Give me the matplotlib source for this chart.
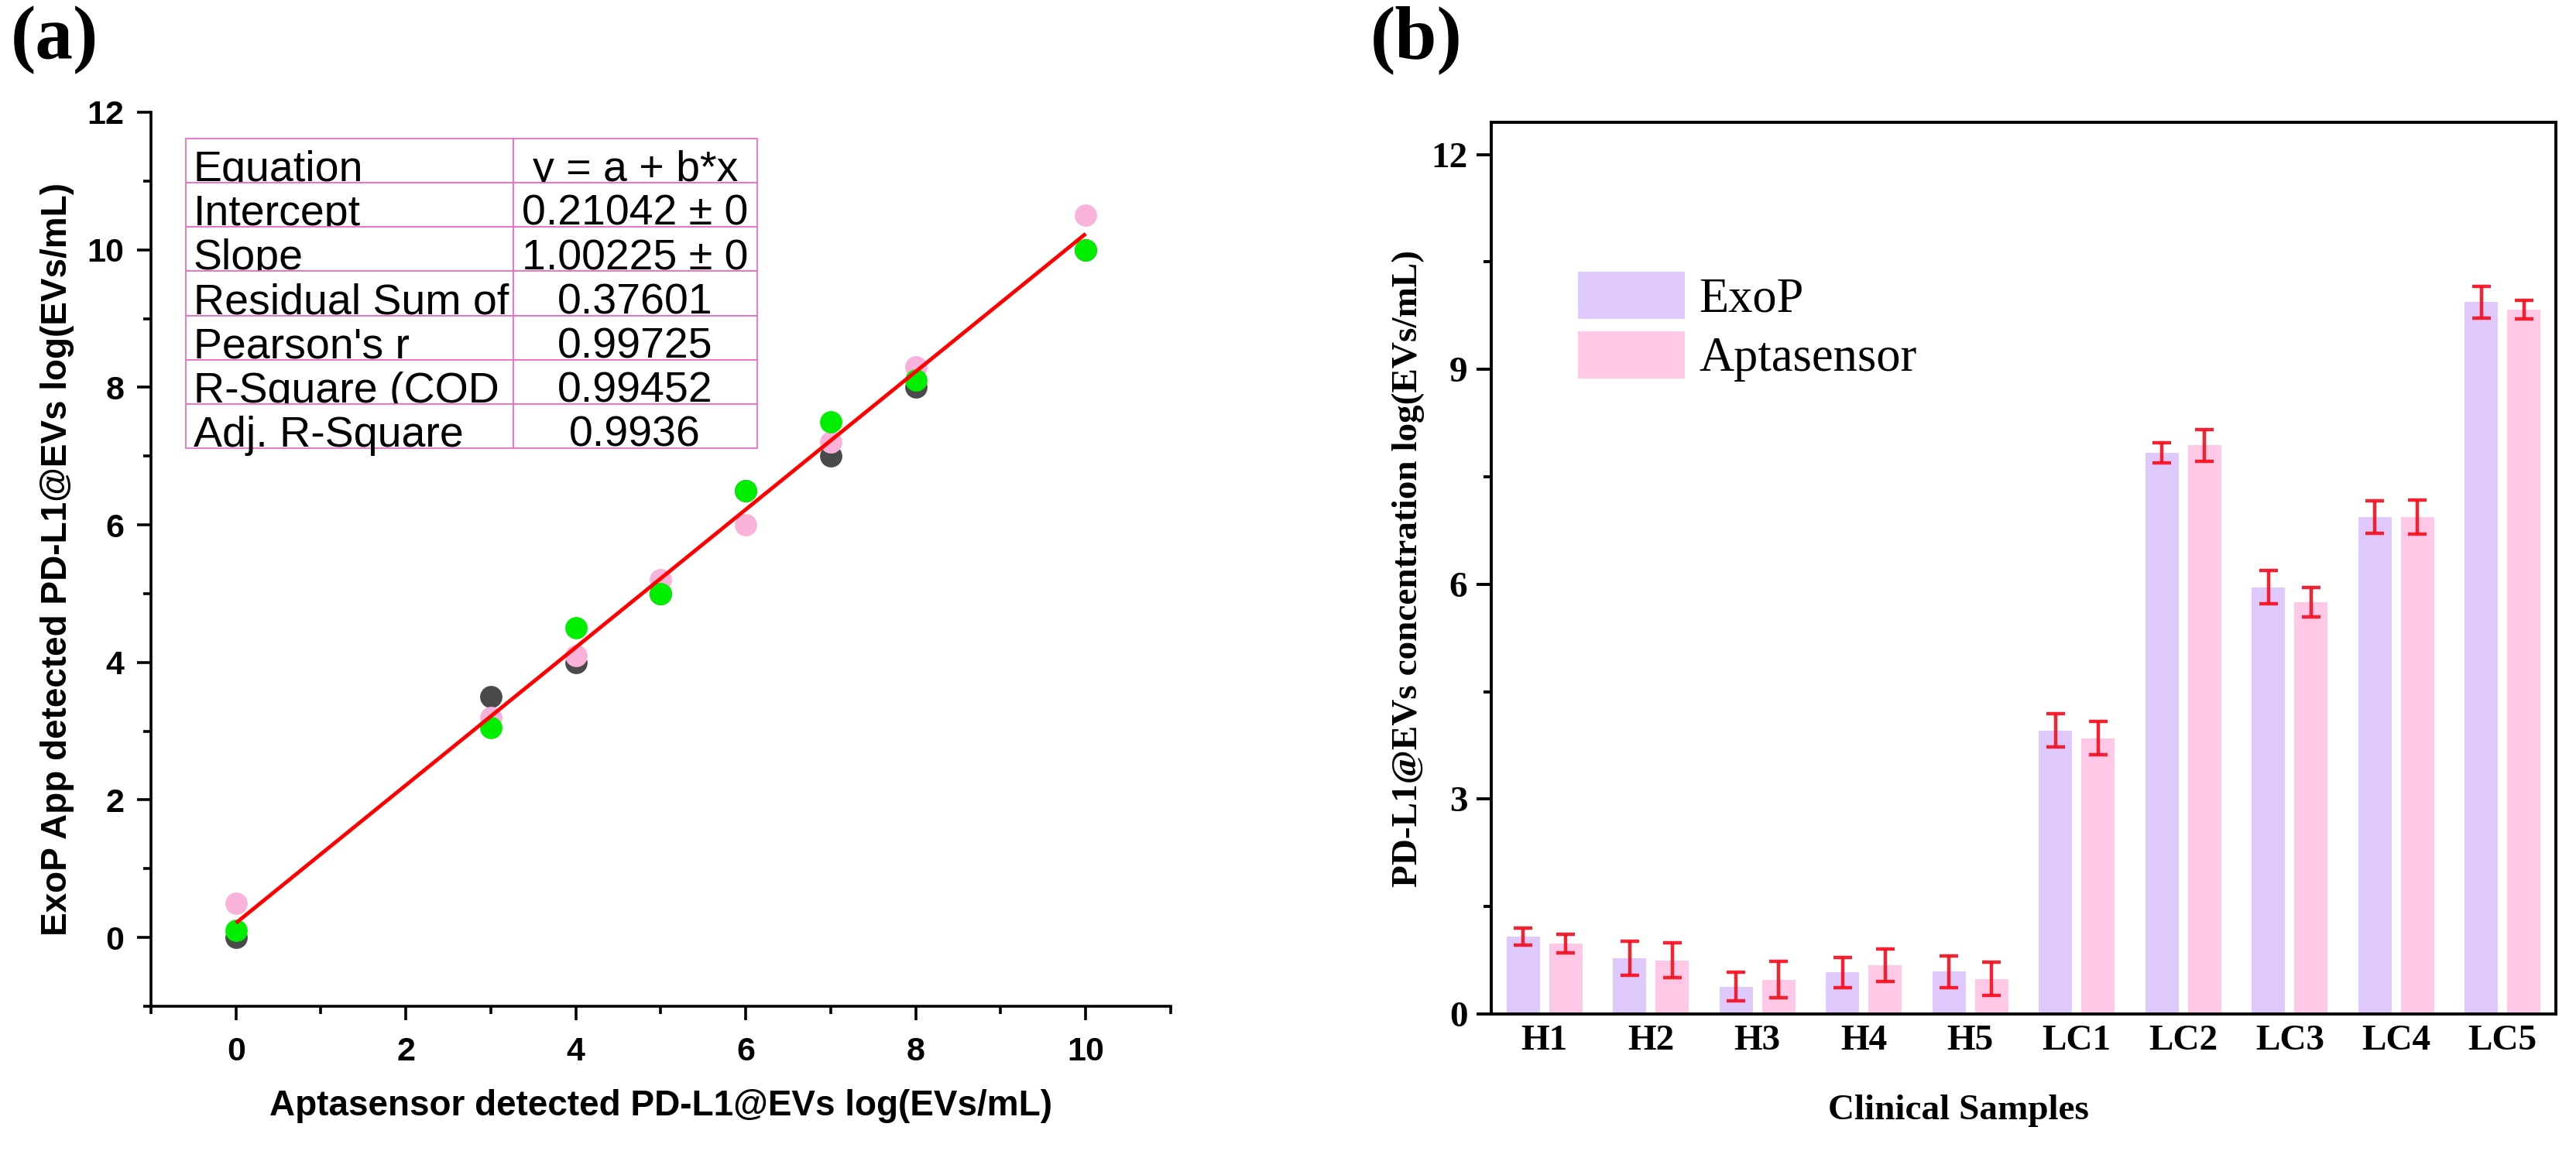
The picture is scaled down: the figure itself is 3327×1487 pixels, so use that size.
import numpy as np
import matplotlib
matplotlib.use("Agg")
import matplotlib.pyplot as plt
from matplotlib.patches import Rectangle
from matplotlib.ticker import MultipleLocator

# ---------------- data: panel (a) ----------------
apt_x = [0, 3, 4, 5, 6, 7, 8, 10]
exop_gray = [0.0, 3.5, 4.0, 5.0, 6.5, 7.0, 8.0, 10.0]
exop_pink = [0.5, 3.2, 4.1, 5.2, 6.0, 7.2, 8.3, 10.5]
exop_green = [0.1, 3.05, 4.5, 5.0, 6.5, 7.5, 8.1, 10.0]
fit_intercept = 0.21042
fit_slope = 1.00225
table_names = ["Equation", "Intercept", "Slope", "Residual Sum of",
               "Pearson's r", "R-Square (COD", "Adj. R-Square"]
table_values = ["y = a + b*x", "0.21042 \u00b1 0", "1.00225 \u00b1 0", "0.37601",
                "0.99725", "0.99452", "0.9936"]

# ---------------- data: panel (b) ----------------
samples = ["H1", "H2", "H3", "H4", "H5", "LC1", "LC2", "LC3", "LC4", "LC5"]
exop_vals = [1.08, 0.78, 0.38, 0.58, 0.59, 3.96, 7.84, 5.96, 6.94, 9.94]
exop_err = [0.12, 0.235, 0.20, 0.21, 0.22, 0.23, 0.14, 0.23, 0.23, 0.22]
apt_vals = [0.98, 0.75, 0.48, 0.68, 0.49, 3.85, 7.94, 5.75, 6.94, 9.83]
apt_err = [0.13, 0.24, 0.25, 0.23, 0.235, 0.23, 0.22, 0.21, 0.24, 0.13]
series_names = ["ExoP", "Aptasensor"]

SANS = ["Liberation Sans", "DejaVu Sans"]
SERIF = ["Liberation Serif", "DejaVu Serif"]

fig = plt.figure(figsize=(33.27, 14.87), dpi=100)

# ================= panel (a) =================
ax1 = fig.add_axes([0.05861, 0.12576, 0.39585, 0.77673])
ax1.scatter(apt_x, exop_gray, s=430, color="#4a4a4a", zorder=3, linewidths=0)
ax1.scatter(apt_x, exop_pink, s=430, color="#f9b3da", zorder=4, linewidths=0)
ax1.scatter(apt_x, exop_green, s=430, color="#00ee00", zorder=5, linewidths=0)
xf = np.array([min(apt_x), max(apt_x)], dtype=float)
ax1.plot(xf, fit_intercept + fit_slope * xf, color="#ff0000", lw=3.5, zorder=6,
         solid_capstyle="butt")

ax1.set_xlim(-1, 11)
ax1.set_ylim(-1, 12)
ax1.xaxis.set_major_locator(MultipleLocator(2))
ax1.xaxis.set_minor_locator(MultipleLocator(1))
ax1.yaxis.set_major_locator(MultipleLocator(2))
ax1.yaxis.set_minor_locator(MultipleLocator(1))
for s in ["top", "right"]:
    ax1.spines[s].set_visible(False)
for s in ["left", "bottom"]:
    ax1.spines[s].set_linewidth(2.6)
ax1.tick_params(which="major", length=13, width=2.6, direction="out")
ax1.tick_params(which="minor", length=7, width=2.6, direction="out")
ax1.tick_params(axis="y", which="major", pad=12)
ax1.tick_params(axis="x", which="major", pad=15)
for lab in ax1.get_xticklabels() + ax1.get_yticklabels():
    lab.set_fontfamily(SANS)
    lab.set_fontweight("bold")
    lab.set_fontsize(31)
ax1.set_xlabel("Aptasensor detected PD-L1@EVs log(EVs/mL)", fontfamily=SANS,
               fontweight="bold", fontsize=33, labelpad=20)
ax1.set_ylabel("ExoP App detected PD-L1@EVs log(EVs/mL)", fontfamily=SANS,
               fontweight="bold", fontsize=33, labelpad=12)

# fit-result table (axes-fraction layout)
tl, tdiv, tr = 0.0342, 0.355, 0.5945
ttop, tbot = 0.9706, 0.6242
rh = (ttop - tbot) / len(table_names)
pinkline = "#f06cc4"
for i, (nm, val) in enumerate(zip(table_names, table_values)):
    y0 = ttop - (i + 1) * rh
    z = 10 + 4 * i
    ax1.add_patch(Rectangle((tl, y0), tdiv - tl, rh, transform=ax1.transAxes,
                            facecolor="white", edgecolor=pinkline, lw=1.3,
                            zorder=z, clip_on=False))
    ax1.text(tl + 0.0073, y0 + 0.002, nm, transform=ax1.transAxes, ha="left",
             va="baseline", fontsize=40, fontfamily=SANS, zorder=z + 1)
    ax1.add_patch(Rectangle((tdiv, y0), tr - tdiv, rh, transform=ax1.transAxes,
                            facecolor="white", edgecolor=pinkline, lw=1.3,
                            zorder=z + 2, clip_on=False))
    ax1.text((tdiv + tr) / 2, y0 + 0.002, val, transform=ax1.transAxes,
             ha="center", va="baseline", fontsize=40, fontfamily=SANS,
             zorder=z + 3)

# ================= panel (b) =================
ax2 = fig.add_axes([0.57890, 0.11903, 0.41329, 0.77471])
xpos = np.arange(len(samples))
off, bw = 0.2, 0.31
b1 = ax2.bar(xpos - off, exop_vals, bw, color="#dfc8fb", label=series_names[0], zorder=2)
b2 = ax2.bar(xpos + off, apt_vals, bw, color="#ffc8e6", label=series_names[1], zorder=2)
ekw = dict(fmt="none", ecolor="#f5101f", elinewidth=3.2, capsize=8.5, capthick=3.2,
           zorder=3, alpha=0.92)
ax2.errorbar(xpos - off, exop_vals, yerr=exop_err, **ekw)
ax2.errorbar(xpos + off, apt_vals, yerr=apt_err, **ekw)

ax2.set_xlim(-0.5, len(samples) - 0.5)
ax2.set_ylim(0, 12.45)
ax2.yaxis.set_major_locator(MultipleLocator(3))
ax2.yaxis.set_minor_locator(MultipleLocator(1.5))
ax2.set_xticks(xpos)
ax2.set_xticklabels(samples)
for s in ax2.spines.values():
    s.set_linewidth(2.8)
ax2.tick_params(axis="y", which="major", length=14, width=2.8, pad=8)
ax2.tick_params(axis="y", which="minor", length=7, width=2.8)
ax2.tick_params(axis="x", which="both", length=0, pad=10)
for lab in ax2.get_xticklabels() + ax2.get_yticklabels():
    lab.set_fontfamily(SERIF)
    lab.set_fontweight("bold")
    lab.set_fontsize(34)
ax2.set_xlabel("Clinical Samples", fontfamily=SERIF, fontweight="bold",
               fontsize=34, labelpad=24)
ax2.xaxis.set_label_coords(0.439, -0.09)
ax2.set_ylabel("PD-L1@EVs concentration log(EVs/mL)", fontfamily=SERIF,
               fontweight="bold", fontsize=34, labelpad=6)
leg = ax2.legend(handles=[b1, b2], loc="upper left", bbox_to_anchor=(0.0815, 0.8325),
                 frameon=False, borderpad=0, borderaxespad=0,
                 handlelength=2.2, handleheight=1.12, labelspacing=0.18,
                 handletextpad=0.3, prop=dict(family=SERIF, size=45))

# panel letters
fig.text(0.004, 0.995, "(a)", fontfamily=SERIF, fontweight="bold", fontsize=70,
         ha="left", va="top")
fig.text(0.532, 0.995, "(b)", fontfamily=SERIF, fontweight="bold", fontsize=70,
         ha="left", va="top")

fig.savefig("out.png", dpi=100, facecolor="white")
